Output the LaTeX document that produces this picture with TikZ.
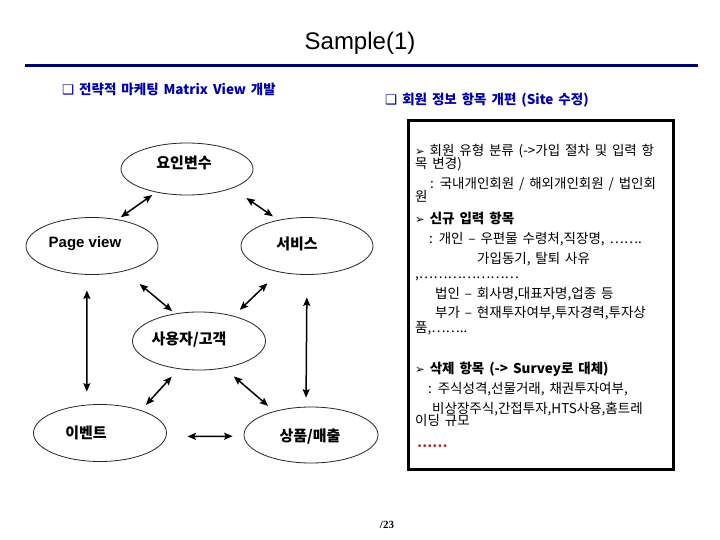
\documentclass[tikz,border=0pt]{standalone}
\usepackage{fontspec}
\setmainfont{Liberation Sans}
\newfontfamily\kr{Noto Sans CJK KR}[WordSpace=1.6]
\newfontfamily\dv{DejaVu Sans}
\newfontfamily\serifpg{Liberation Serif}
\usetikzlibrary{shapes.geometric,arrows.meta}
\definecolor{navyline}{RGB}{0,0,110}
\definecolor{headblue}{RGB}{0,0,170}
\definecolor{dotred}{RGB}{170,40,40}
\newcommand{\tip}{{\dv\mdseries\fontsize{11.5}{12}\selectfont ➢}}
\newcommand{\wrapped}[1]{\parbox[t]{255pt}{\lineskiplimit=-100pt\lineskip=0pt #1}}
\begin{document}
\begin{tikzpicture}[x=1pt,y=-1pt,
  ell/.style={ellipse,draw=black!85,line width=0.8pt,inner sep=0pt},
  lbl/.style={font=\kr\bfseries\fontsize{15}{16}\selectfont,inner sep=0pt},
  arr/.style={{Stealth[length=8.5pt,width=7pt,inset=1.5pt]}-{Stealth[length=8.5pt,width=7pt,inset=1.5pt]},line width=1.5pt},
  boxtxt/.style={anchor=base west,inner sep=0pt,font=\kr\fontsize{13.5}{12.5}\selectfont},
  boxbold/.style={boxtxt,font=\kr\bfseries\fontsize{13.5}{12.5}\selectfont},
  head/.style={anchor=base west,inner sep=0pt,text=headblue,font=\kr\bfseries\fontsize{13.5}{14}\selectfont}]
\useasboundingbox[fill=white] (0,0) rectangle (720,540);

% title and rule
\node[font=\fontsize{24}{28}\selectfont,inner sep=0pt] (title) at (360,43) {Sample(1)};
\draw[navyline,line width=3pt] (25,66) -- (698,66);

% headings
\node[head] (h1) at (62,95) {{\dv\mdseries ❑} 전략적 마케팅 Matrix View 개발};
\node[head] (h2) at (385,105) {{\dv\mdseries ❑} 회원 정보 항목 개편 (Site 수정)};

% ellipses
\node[ell,minimum width=132pt,minimum height=52pt] (yo) at (187,169) {};
\node[ell,minimum width=132pt,minimum height=57pt] (pv) at (92,246) {};
\node[ell,minimum width=132pt,minimum height=57pt] (sv) at (307,246) {};
\node[ell,minimum width=133pt,minimum height=58pt] (us) at (199,341) {};
\node[ell,minimum width=133pt,minimum height=57pt] (ev) at (100,433) {};
\node[ell,minimum width=134pt,minimum height=56pt] (pr) at (311,435) {};

% labels
\node[lbl] (yot) at (184,163) {요인변수};
\node[font=\bfseries\fontsize{15}{17}\selectfont,inner sep=0pt] (pvt) at (85,244) {Page view};
\node[lbl] (svt) at (297,244) {서비스};
\node[lbl] (ust) at (189,340) {사용자/고객};
\node[lbl] (evt) at (86,433) {이벤트};
\node[lbl] (prt) at (310,437) {상품/매출};

% connectors
\draw[arr,shorten <=4.7pt,shorten >=3.8pt] (yo.217) -- (pv.46);
\draw[arr,shorten <=17pt,shorten >=6.3pt] (yo.337) -- (sv.138);
\draw[arr,shorten <=20pt,shorten >=3.8pt] (pv.322) -- (us.131);
\draw[arr,shorten <=16pt,shorten >=8.6pt] (sv.223) -- (us.36);
\draw[arr,shorten <=15.6pt,shorten >=13pt] (pv.260) -- (ev.115);
\draw[arr,shorten <=22.5pt,shorten >=9pt] (sv.270) -- (pr.100);
\draw[arr,shorten <=10.3pt,shorten >=7.2pt] (us.234) -- (ev.29);
\draw[arr,shorten <=12.6pt,shorten >=8.1pt] (us.313) -- (pr.147);
\draw[arr,shorten <=21pt,shorten >=11pt] (ev.357) -- (pr.181);

% right box
\node[draw,line width=3pt,minimum width=265pt,minimum height=349pt,inner sep=0pt,anchor=north west] (box) at (407,119) {};
\node[boxtxt] (l1) at (415,155.5) {\wrapped{\tip{} 회원 유형 분류 (->가입 절차 및 입력 항\\[1pt]목 변경)}};
\node[boxtxt] (l3) at (415,188.5) {\wrapped{\hspace*{15pt}: 국내개인회원 / 해외개인회원 / 법인회\\[1pt]원}};
\node[boxbold] (l5) at (415,223.5) {\tip{} 신규 입력 항목};
\node[boxtxt] (l6) at (429,243.5) {: 개인 – 우편물 수령처,직장명, …….};
\node[boxtxt] (l7) at (477,263.5) {가입동기, 탈퇴 사유};
\node[boxtxt] (l8) at (415,278.5) {,…………………};
\node[boxtxt] (l9) at (435,298.5) {법인 – 회사명,대표자명,업종 등};
\node[boxtxt] (l10) at (415,317) {\wrapped{\hspace*{20pt}부가 – 현재투자여부,투자경력,투자상\\[2.5pt]품,……..}};
\node[boxbold] (l12) at (415,373.5) {\tip{} 삭제 항목 (-> Survey로 대체)};
\node[boxtxt] (l13) at (428,393.5) {: 주식성격,선물거래, 채권투자여부,};
\node[boxtxt] (l14) at (415,413.5) {\wrapped{\hspace*{17pt}비상장주식,간접투자,HTS사용,홈트레\\[-0.5pt]이딩 규모}};
\node[boxbold,text=dotred] (l16) at (417,447) {……};

% page number
\node[font=\serifpg\bfseries\fontsize{11}{12}\selectfont,inner sep=0pt] (pg) at (387,525) {/23};
\end{tikzpicture}
\end{document}
